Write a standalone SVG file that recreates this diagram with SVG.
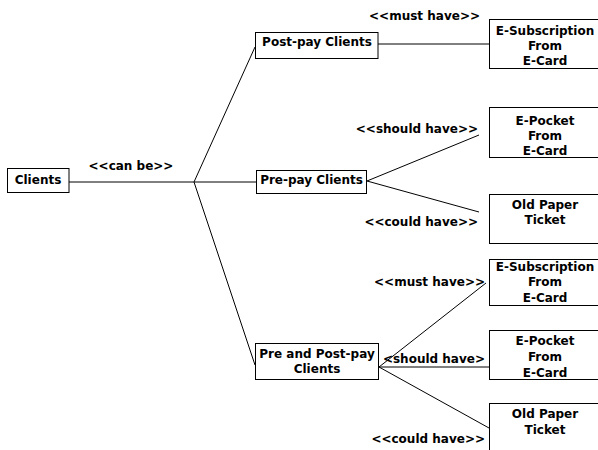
<svg xmlns="http://www.w3.org/2000/svg" width="598" height="450" viewBox="0 0 598 450">
  <style>
    text { font-family: "DejaVu Sans", Verdana, sans-serif; font-weight: bold; font-size: 12px; fill: #000; }
    .box { fill: #fff; stroke: #000; stroke-width: 1; }
    .c { text-anchor: middle; }
    .lbl { text-anchor: end; }
    #connectors line { stroke: #000; stroke-width: 1; }
  </style>
  <rect width="598" height="450" fill="#fff"/>

  <!-- connectors -->
  <g id="connectors">
    <line x1="69" y1="182" x2="256" y2="182"/>
    <line x1="194" y1="182" x2="255" y2="47"/>
    <line x1="194" y1="182" x2="255" y2="365"/>
    <line x1="378" y1="44" x2="489" y2="44"/>
    <line x1="367" y1="181" x2="479" y2="135"/>
    <line x1="367" y1="181" x2="479" y2="212"/>
    <line x1="379" y1="367" x2="486" y2="283"/>
    <line x1="379" y1="367" x2="489" y2="367"/>
    <line x1="379" y1="367" x2="489" y2="428"/>
  </g>

  <!-- connector labels -->
  <g id="labels">
    <text class="c" x="131" y="170">&lt;&lt;can be&gt;&gt;</text>
    <text class="lbl" x="480" y="20">&lt;&lt;must have&gt;&gt;</text>
    <text class="lbl" x="478" y="133">&lt;&lt;should have&gt;&gt;</text>
    <text class="lbl" x="478" y="226">&lt;&lt;could have&gt;&gt;</text>
    <text class="lbl" x="485" y="286">&lt;&lt;must have&gt;&gt;</text>
    <text class="lbl" x="485" y="363">&lt;should have&gt;</text>
    <text class="lbl" x="485" y="443">&lt;&lt;could have&gt;&gt;</text>
  </g>

  <!-- left column -->
  <g id="clients">
    <rect class="box" x="7.5" y="168.5" width="61.5" height="24"/>
    <text class="c" x="38" y="184">Clients</text>
  </g>

  <!-- middle column -->
  <g id="postpay">
    <rect class="box" x="255.5" y="32.5" width="122.5" height="26"/>
    <text class="c" x="317" y="46">Post-pay Clients</text>
  </g>
  <g id="prepay">
    <rect class="box" x="256.5" y="170.5" width="110" height="23"/>
    <text class="c" x="311.5" y="184">Pre-pay Clients</text>
  </g>
  <g id="prepostpay">
    <rect class="box" x="255.5" y="343.5" width="123" height="36"/>
    <text class="c" x="317" y="358">Pre and Post-pay</text>
    <text class="c" x="317" y="373">Clients</text>
  </g>

  <!-- right column -->
  <g id="esub1">
    <rect class="box" x="489.5" y="19.5" width="120" height="49"/>
    <text class="c" x="545" y="35">E-Subscription</text>
    <text class="c" x="545" y="50">From</text>
    <text class="c" x="545" y="65">E-Card</text>
  </g>
  <g id="epocket1">
    <rect class="box" x="489.5" y="107.5" width="120" height="50"/>
    <text class="c" x="545" y="125">E-Pocket</text>
    <text class="c" x="545" y="140">From</text>
    <text class="c" x="545" y="155">E-Card</text>
  </g>
  <g id="paper1">
    <rect class="box" x="489.5" y="194.5" width="120" height="49"/>
    <text class="c" x="545" y="209">Old Paper</text>
    <text class="c" x="545" y="224">Ticket</text>
  </g>
  <g id="esub2">
    <rect class="box" x="489.5" y="259.5" width="120" height="46"/>
    <text class="c" x="545" y="271">E-Subscription</text>
    <text class="c" x="545" y="286">From</text>
    <text class="c" x="545" y="302">E-Card</text>
  </g>
  <g id="epocket2">
    <rect class="box" x="489.5" y="330.5" width="120" height="49"/>
    <text class="c" x="545" y="345">E-Pocket</text>
    <text class="c" x="545" y="361">From</text>
    <text class="c" x="545" y="377">E-Card</text>
  </g>
  <g id="paper2">
    <rect class="box" x="489.5" y="403.5" width="120" height="60"/>
    <text class="c" x="545" y="418">Old Paper</text>
    <text class="c" x="545" y="434">Ticket</text>
  </g>
</svg>
